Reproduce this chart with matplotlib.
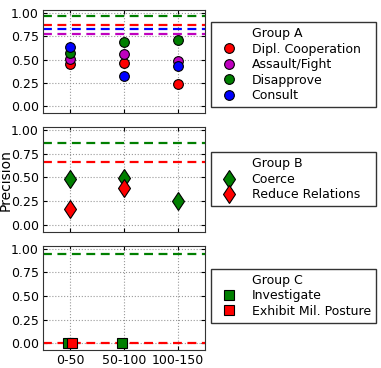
import numpy as np
import matplotlib
matplotlib.use('Agg')
import matplotlib.pyplot as plt
from matplotlib.lines import Line2D

plt.rcParams['font.family'] = ['DejaVu Sans']
plt.rcParams['font.size'] = 9

bins = ['0-50', '50-100', '100-150']

# group A
dipl_coop = [0.45, 0.46, 0.24]
assault = [0.51, 0.56, 0.49]
disapprove = [0.57, 0.69, 0.71]
consult = [0.63, 0.32, 0.43]
base_a = {'r': 0.865, 'm': 0.77, 'g': 0.965, 'b': 0.825}

# group B
coerce = [0.48, 0.49, 0.25]
reduce_rel = [0.17, 0.39, np.nan]
base_b = {'g': 0.86, 'r': 0.665}

# group C
investigate = [0.0, 0.0, np.nan]
exhibit = [0.0, np.nan, np.nan]
base_c = {'g': 0.945, 'r': 0.0}

red = '#ff0000'
mag = '#bf00bf'
grn = '#007f00'
blu = '#0000ff'
cmap = {'r': red, 'm': mag, 'g': grn, 'b': blu}

fig = plt.figure(figsize=(3.81, 3.68), dpi=100)
ax1 = fig.add_axes([0.113, 0.693, 0.425, 0.280])
ax2 = fig.add_axes([0.113, 0.370, 0.425, 0.285])
ax3 = fig.add_axes([0.113, 0.049, 0.425, 0.283])

x = np.arange(len(bins))

for k, v in base_a.items():
    ax1.axhline(v, color=cmap[k], ls='--', lw=1.6, dashes=(4, 2.5))
for k, v in base_b.items():
    ax2.axhline(v, color=cmap[k], ls='--', lw=1.6, dashes=(4, 2.5))
for k, v in base_c.items():
    ax3.axhline(v, color=cmap[k], ls='--', lw=1.6, dashes=(4, 2.5))

leg_kw = dict(loc='center left', mode='expand', numpoints=1, fancybox=False, edgecolor='k',
              handletextpad=0.7, handlelength=2.15, borderpad=0.4, labelspacing=0.2,
              borderaxespad=0, fontsize=9)

h = [Line2D([], [], ls='none', label='Group A')]
for vals, c, lab in [(dipl_coop, red, 'Dipl. Cooperation'), (assault, mag, 'Assault/Fight'),
                     (disapprove, grn, 'Disapprove'), (consult, blu, 'Consult')]:
    l, = ax1.plot(x, vals, 'o', color=c, mec='k', mew=0.8, ms=7, ls='none', label=lab, zorder=3)
    h.append(l)
ax1.legend(handles=h, bbox_to_anchor=(1.037, 0.47, 1.02, 0), **leg_kw)

h = [Line2D([], [], ls='none', label='Group B')]
for vals, c, lab in [(coerce, grn, 'Coerce'), (reduce_rel, red, 'Reduce Relations')]:
    l, = ax2.plot(x, vals, 'd', color=c, mec='k', mew=0.8, ms=9.5, ls='none', label=lab, zorder=3)
    h.append(l)
ax2.legend(handles=h, bbox_to_anchor=(1.037, 0.5, 1.02, 0), **leg_kw)

h = [Line2D([], [], ls='none', label='Group C')]
for vals, c, lab, off in [(investigate, grn, 'Investigate', -0.03), (exhibit, red, 'Exhibit Mil. Posture', 0.03)]:
    l, = ax3.plot(x + off, vals, 's', color=c, mec='k', mew=0.8, ms=7.5, ls='none', label=lab, zorder=3)
    h.append(l)
ax3.legend(handles=h, bbox_to_anchor=(1.037, 0.52, 1.02, 0), **leg_kw)

for ax in [ax1, ax2, ax3]:
    ax.set_xlim(-0.5, 2.5)
    ax.set_ylim(-0.07, 1.03)
    ax.set_yticks([0, 0.25, 0.5, 0.75, 1.0])
    ax.set_yticklabels(['0.00', '0.25', '0.50', '0.75', '1.00'])
    ax.set_xticks(x)
    ax.grid(True, ls=':', color='#999999', lw=0.8)
    ax.tick_params(direction='in', length=3, top=True, right=True, labelsize=9, pad=3)
    for s in ax.spines.values():
        s.set_color('#333333')
ax1.set_xticklabels([])
ax2.set_xticklabels([])
ax3.set_xticklabels(bins)
fig.text(0.016, 0.51, 'Precision', rotation=90, va='center', ha='center', fontsize=10)

fig.savefig('out.png', dpi=100)
